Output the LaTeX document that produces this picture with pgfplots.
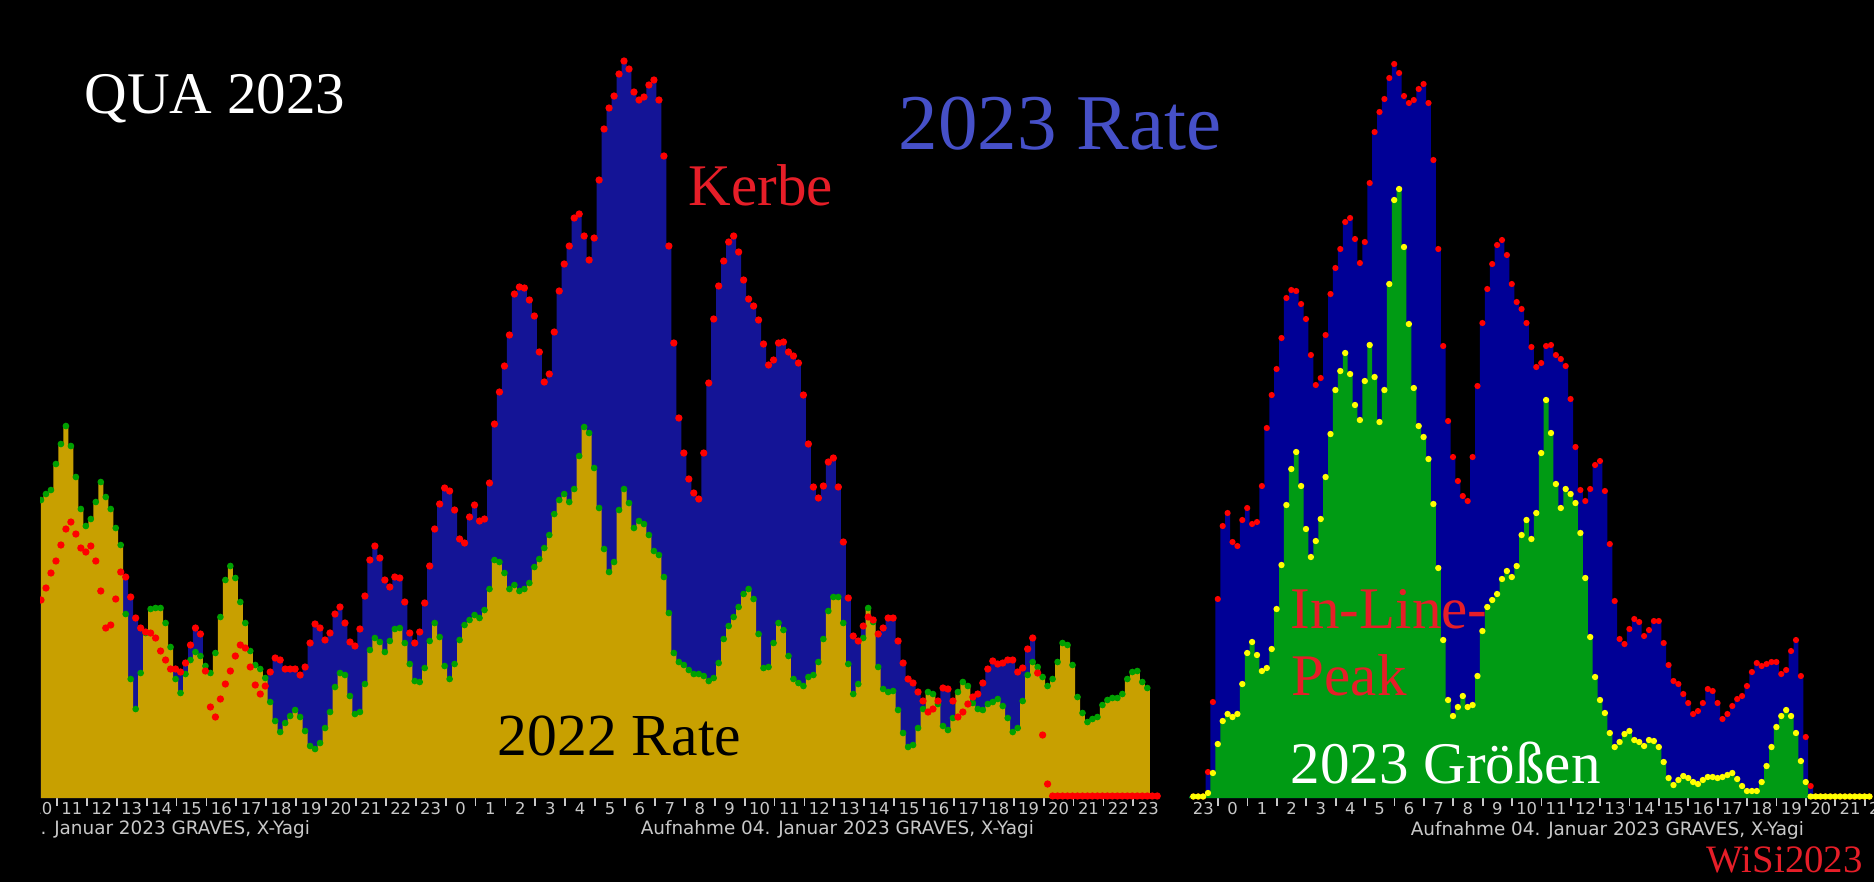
\documentclass[border=0pt]{standalone}
\usepackage{pgfplots}
\pgfplotsset{compat=1.18}
\usepackage{pgfplotstable}
\usepackage{fontspec}
\setmainfont{Liberation Serif}
\newfontfamily\dejavu{DejaVu Sans}
\definecolor{blueL}{RGB}{20,20,150}
\definecolor{blueR}{RGB}{0,0,150}
\definecolor{gold}{RGB}{200,160,0}
\definecolor{greenD}{RGB}{0,160,0}
\definecolor{greenR}{RGB}{0,155,20}
\definecolor{redD}{RGB}{255,0,0}
\definecolor{yel}{RGB}{255,255,0}
\definecolor{lab}{RGB}{200,200,200}
\definecolor{rateblue}{RGB}{70,80,200}
\definecolor{txtred}{RGB}{230,30,40}

% left panel: j = 10-min bin, r = 2023 rate, g = 2022 rate (pixel heights)
\pgfplotstableread{
j r g
0 198 298
1 210 304
2 225 308
3 237 334
4 253 354
5 269 372
6 276 352
7 264 321
8 250 289
9 246 272
10 252 279
11 237 296
12 207 316
13 170 301
14 173 289
15 199 270
16 226 253
17 221 184
18 201 119
19 180 89
20 170 125
21 166 165
22 165 189
23 160 190
24 147 190
25 138 175
26 129 151
27 129 119
28 126 105
29 135 124
30 153 138
31 170 146
32 164 142
33 127 132
34 91 125
35 81 145
36 99 181
37 114 218
38 127 232
39 142 220
40 153 196
41 150 175
42 131 147
43 113 133
44 104 129
45 112 120
46 126 96
47 140 77
48 138 66
49 129 75
50 129 82
51 129 88
52 123 81
53 131 67
54 155 52
55 174 49
56 170 55
57 158 70
58 165 86
59 184 111
60 191 125
61 175 123
62 156 102
63 152 84
64 169 86
65 202 114
66 238 148
67 252 160
68 240 156
69 218 146
70 211 157
71 221 169
72 220 170
73 196 155
74 165 134
75 155 117
76 166 116
77 195 130
78 232 157
79 269 175
80 294 161
81 310 132
82 307 119
83 288 134
84 259 158
85 255 173
86 281 178
87 293 183
88 277 180
89 279 188
90 315 209
91 374 238
92 406 236
93 432 225
94 463 209
95 504 213
96 511 207
97 510 209
98 498 215
99 482 231
100 446 239
101 416 250
102 424 263
103 466 284
104 507 298
105 534 304
106 552 296
107 580 309
108 584 342
109 562 371
110 538 365
111 560 330
112 618 290
113 669 249
114 690 226
115 702 236
116 724 288
117 737 309
118 729 295
119 706 270
120 698 277
121 701 274
122 713 263
123 718 247
124 698 243
125 642 221
126 552 185
127 455 145
128 380 136
129 345 133
130 319 128
131 305 124
132 299 124
133 345 122
134 415 117
135 479 120
136 512 135
137 537 159
138 556 172
139 562 181
140 546 191
141 518 204
142 499 209
143 492 199
144 478 164
145 454 130
146 433 131
147 438 155
148 455 175
149 456 168
150 446 142
151 442 119
152 435 115
153 403 112
154 354 121
155 311 123
156 300 136
157 312 159
158 336 187
159 340 201
160 311 201
161 256 175
162 200 134
163 162 104
164 157 114
165 172 160
166 181 190
167 178 176
168 164 131
169 170 109
170 180 106
171 180 107
172 157 88
173 135 65
174 119 51
175 115 53
176 106 70
177 97 89
178 86 106
179 89 104
180 97 94
181 110 72
182 109 68
183 97 80
184 81 106
185 86 116
186 94 112
187 101 95
188 104 89
189 115 88
190 129 94
191 137 96
192 134 99
193 135 92
194 138 80
195 138 66
196 126 70
197 130 97
198 149 123
199 160 136
200 125 131
201 63 121
202 14 112
203 2 119
204 2 136
205 2 155
206 2 153
207 2 133
208 2 101
209 2 85
210 2 76
211 2 79
212 2 81
213 2 93
214 2 98
215 2 100
216 2 100
217 2 104
218 2 119
219 2 126
220 2 127
221 2 116
222 2 110
223 2 0
224 2 0
}\lefttab

% right panel: k = 10-min bin, b = 2023 rate, g = 2023 sizes
\pgfplotstableread{
k b g
-4 1.5 1.5
-3 1.5 1.5
-2 1.5 1.5
-1 1.5 1.5
0 26 5
1 96 25
2 199 54
3 272 77
4 285 84
5 256 81
6 252 84
7 278 114
8 290 145
9 274 156
10 276 143
11 312 127
12 370 130
13 403 149
14 429 189
15 460 233
16 500 293
17 508 329
18 507 346
19 494 312
20 479 269
21 443 241
22 413 257
23 420 279
24 463 321
25 504 364
26 530 408
27 549 427
28 576 445
29 580 424
30 559 393
31 535 378
32 556 417
33 615 453
34 666 421
35 686 376
36 699 408
37 720 514
38 734 598
39 725 609
40 702 551
41 695 474
42 698 410
43 709 372
44 714 361
45 695 339
46 638 294
47 549 230
48 452 158
49 377 98
50 341 82
51 317 91
52 302 102
53 297 91
54 341 93
55 412 122
56 475 167
57 509 191
58 534 198
59 553 204
60 558 219
61 543 227
62 514 221
63 496 232
64 489 263
65 475 278
66 451 259
67 431 285
68 435 345
69 452 398
70 453 365
71 443 314
72 439 290
73 432 309
74 399 304
75 351 295
76 308 265
77 297 220
78 309 161
79 333 121
80 337 98
81 307 85
82 254 65
83 197 51
84 159 56
85 154 64
86 169 67
87 179 58
88 176 56
89 162 52
90 168 58
91 177 57
92 177 51
93 155 36
94 133 20
95 117 13
96 114 18
97 104 22
98 95 20
99 84 16
100 87 14
101 95 18
102 109 21
103 107 21
104 95 20
105 79 21
106 84 23
107 92 25
108 99 19
109 102 12
110 112 7
111 126 7
112 135 7
113 132 16
114 134 32
115 136 51
116 136 71
117 124 82
118 128 88
119 147 82
120 158 65
121 122 37
122 61 16
123 12 1.5
124 1.5 1.5
125 1.5 1.5
126 1.5 1.5
127 1.5 1.5
128 1.5 1.5
129 1.5 1.5
130 1.5 1.5
131 1.5 1.5
132 1.5 1.5
133 1.5 1.5
134 1.5 1.5
135 1.5 1.5
}\righttab

\pgfplotsset{
  panel/.style={
    scale only axis, height=199.5pt, ymin=0, ymax=798,
    axis line style={draw=none}, ytick=\empty,
    major tick length=0pt, minor tick length=2pt, tick align=outside,
    minor tick style={lab, line width=0.45pt},
    xticklabel style={font=\dejavu\fontsize{4.1}{4.1}\selectfont, text=lab, anchor=center, yshift=-2.6pt},
    clip=true,
  }
}

\begin{document}
\begin{tikzpicture}
\useasboundingbox (0,0) rectangle (468.5pt,220.5pt);
\fill[black] (0,0) rectangle (468.5pt,220.5pt);

% ---------- left panel ----------
\begin{scope}
\clip (10pt,0) rectangle (291pt,220.5pt);
\begin{axis}[panel,
  at={(10pt,21pt)}, anchor=south west, width=280pt,
  xmin=0.4348, xmax=37.893,
  xtick={0.5,1.5,...,37.5},
  xticklabels={10,11,12,13,14,15,16,17,18,19,20,21,22,23,0,1,2,3,4,5,6,7,8,9,10,11,12,13,14,15,16,17,18,19,20,21,22,23},
  minor xtick={1,2,...,37},
]
\addplot[const plot mark mid, fill=blueL, draw=none] table[x expr=\thisrow{j}/6+0.468, y=r]{\lefttab} \closedcycle;
\addplot[const plot mark mid, fill=gold, draw=none] table[x expr=\thisrow{j}/6+0.468, y=g]{\lefttab} \closedcycle;
\addplot[only marks, color=greenD, mark=*, mark size=0.62pt, mark options={draw=none, fill=greenD}, skip coords between index={223}{225}] table[x expr=\thisrow{j}/6+0.468, y=g]{\lefttab};
\addplot[only marks, color=redD, mark=*, mark size=0.7pt, mark options={draw=none, fill=redD}] table[x expr=\thisrow{j}/6+0.468, y=r]{\lefttab};
\end{axis}
\node[anchor=base west, inner sep=0, text=lab, font=\dejavu\fontsize{4.6}{5}\selectfont] at (-21pt,12pt) {Aufnahme 04. Januar 2023 GRAVES, X-Yagi};
\end{scope}
\node[anchor=base west, inner sep=0, text=lab, font=\dejavu\fontsize{4.6}{5}\selectfont] at (160pt,12pt) {Aufnahme 04. Januar 2023 GRAVES, X-Yagi};

% ---------- right panel ----------
\begin{scope}
\clip (297.25pt,0) rectangle (468.5pt,220.5pt);
\begin{axis}[panel,
  at={(297.25pt,21pt)}, anchor=south west, width=174.09pt,
  xmin=-0.986, xmax=22.7,
  xtick={-0.5,0.5,...,22.5},
  xticklabels={23,0,1,2,3,4,5,6,7,8,9,10,11,12,13,14,15,16,17,18,19,20,21,22},
  minor xtick={0,1,...,22},
]
\addplot[const plot mark mid, fill=blueR, draw=none] table[x expr=\thisrow{k}/6-0.34, y=b]{\righttab} \closedcycle;
\addplot[const plot mark mid, fill=greenR, draw=none] table[x expr=\thisrow{k}/6-0.34, y=g]{\righttab} \closedcycle;
\addplot[only marks, color=redD, mark=*, mark size=0.56pt, mark options={draw=none, fill=redD}] table[x expr=\thisrow{k}/6-0.34, y=b]{\righttab};
\addplot[only marks, color=yel, mark=*, mark size=0.58pt, mark options={draw=none, fill=yel}] table[x expr=\thisrow{k}/6-0.34, y=g]{\righttab};
\end{axis}
\node[anchor=base west, inner sep=0, text=lab, font=\dejavu\fontsize{4.6}{5}\selectfont] at (352.5pt,11.75pt) {Aufnahme 04. Januar 2023 GRAVES, X-Yagi};
\end{scope}

% ---------- annotations ----------
\node[anchor=base west, inner sep=0, text=white, font=\fontsize{14.75}{15}\selectfont] at (21pt,192.25pt) {QUA 2023};
\node[anchor=base west, inner sep=0, text=rateblue, font=\fontsize{19.75}{20}\selectfont] at (224.5pt,183.25pt) {2023 Rate};
\node[anchor=base west, inner sep=0, text=txtred, font=\fontsize{14.75}{15}\selectfont] at (172pt,169.25pt) {Kerbe};
\node[anchor=base west, inner sep=0, text=black, font=\fontsize{14.9}{15}\selectfont] at (124.25pt,31.75pt) {2022 Rate};
\node[anchor=base west, inner sep=0, text=txtred, font=\fontsize{14.75}{15}\selectfont] at (322.5pt,63.5pt) {In-Line-};
\node[anchor=base west, inner sep=0, text=txtred, font=\fontsize{14.75}{15}\selectfont] at (322.75pt,46.75pt) {Peak};
\node[anchor=base west, inner sep=0, text=white, font=\fontsize{14.75}{15}\selectfont] at (322.5pt,24.75pt) {2023 Größen};
\node[anchor=base west, inner sep=0, text=txtred, font=\fontsize{9.7}{10}\selectfont] at (426.5pt,2.5pt) {WiSi2023};
\end{tikzpicture}
\end{document}
